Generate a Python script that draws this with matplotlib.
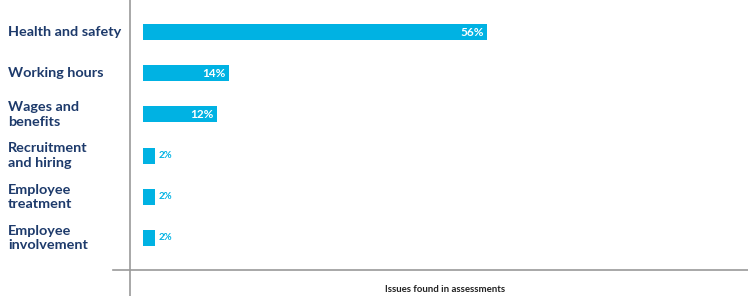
import matplotlib.pyplot as plt
import matplotlib.transforms as mtransforms
from matplotlib.lines import Line2D

categories = ['Health and safety', 'Working hours', 'Wages and\nbenefits',
              'Recruitment\nand hiring', 'Employee\ntreatment', 'Employee\ninvolvement']
values = [56, 14, 12, 2, 2, 2]
value_labels = ['56%', '14%', '12%', '2%', '2%', '2%']

bar_color = '#00b2e3'
text_color = '#1d3a6b'
line_color = '#9a9a9a'

W, H = 748, 296
fig = plt.figure(figsize=(W / 100, H / 100), dpi=100)
ax = fig.add_axes([130 / W, 26 / H, 618 / W, 270 / H])

ys = list(range(len(values)))
ax.barh(ys, values, height=0.39, color=bar_color)
ax.set_xlim(-2.12, 98.5)
ax.set_ylim(5.777, -0.777)
ax.axis('off')

# value labels: inside for long bars, outside for short ones
for y, v, lab in zip(ys, values, value_labels):
    if v >= 10:
        ax.text(v - 0.5, y, lab, ha='right', va='center', color='white',
                fontsize=8.5, fontweight='bold', family='Lato')
    else:
        ax.text(v + 0.6, y, lab, ha='left', va='center', color=bar_color,
                fontsize=7, fontweight='bold', family='Lato')

# category labels on the far left
trans = mtransforms.blended_transform_factory(fig.transFigure, ax.transData)
for y, cat in zip(ys, categories):
    ax.text(8 / W, y, cat, transform=trans, ha='left', va='center',
            color=text_color, fontsize=10.4, fontweight='bold', family='Lato',
            linespacing=1.25)

# axis lines
fig.add_artist(Line2D([130 / W, 130 / W], [0, 1], color=line_color, lw=1.2))
fig.add_artist(Line2D([113 / W, 1], [26 / H, 26 / H], color=line_color, lw=1.2))

fig.text(445 / W, 7 / H, 'Issues found in assessments', ha='center', va='center',
         color='#222222', fontsize=6.9, fontweight='bold', family='Lato')

fig.savefig('out.png', dpi=100)
